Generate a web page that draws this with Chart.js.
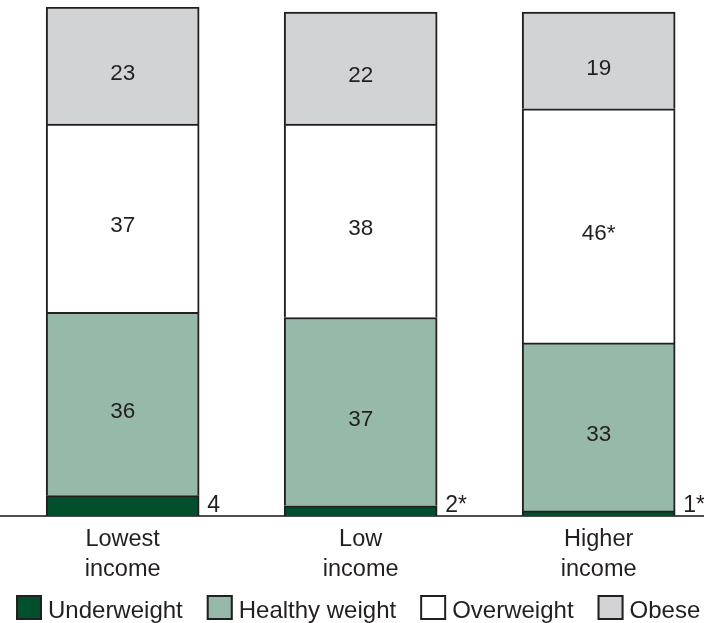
<!DOCTYPE html>
<html><head><meta charset="utf-8">
<script src="https://cdn.jsdelivr.net/npm/chart.js@4.4.1/dist/chart.umd.min.js"></script>
<style>html,body{margin:0;padding:0;background:#fff;overflow:hidden}#wrap{position:relative;width:704px;height:623px}</style>
</head><body><div id="wrap"><canvas id="c"></canvas></div>
<script>
const categories = ['Lowest income', 'Low income', 'Higher income'];
const seriesNames = ['Underweight', 'Healthy weight', 'Overweight', 'Obese'];
const underweight = [4, 2, 1];
const healthyWeight = [36, 37, 33];
const overweight = [37, 38, 46];
const obese = [23, 22, 19];
const underweightStar = [false, true, true];
const healthyStar = [false, false, false];
const overweightStar = [false, false, true];
const obeseStar = [false, false, false];

const INK = '#231f20';
const FONT = '"Liberation Sans", Arial, Helvetica, sans-serif';

function pts(arr) { return arr.map((v, i) => ({ x: i, y: v })); }

const datasets = [
  { label: seriesNames[0], data: pts(underweight), backgroundColor: '#00502e', stars: underweightStar },
  { label: seriesNames[1], data: pts(healthyWeight), backgroundColor: '#96b9aa', stars: healthyStar },
  { label: seriesNames[2], data: pts(overweight), backgroundColor: '#ffffff', stars: overweightStar },
  { label: seriesNames[3], data: pts(obese), backgroundColor: '#d1d3d4', stars: obeseStar }
].map(d => Object.assign(d, {
  borderColor: INK, borderWidth: 2, borderSkipped: 'start', barThickness: 153
}));

const valueLabels = {
  id: 'valueLabels',
  afterDatasetsDraw(chart) {
    const ctx = chart.ctx;
    ctx.save();
    ctx.fillStyle = INK;
    chart.data.datasets.forEach((ds, di) => {
      const meta = chart.getDatasetMeta(di);
      meta.data.forEach((bar, i) => {
        const v = ds.data[i].y;
        const txt = String(v) + (ds.stars[i] ? '*' : '');
        if (di === 0) {
          ctx.font = '23px ' + FONT;
          ctx.textAlign = 'left';
          ctx.textBaseline = 'alphabetic';
          ctx.fillText(txt, bar.x + bar.width / 2 + 8, 512);
        } else {
          ctx.font = '22.5px ' + FONT;
          ctx.textAlign = 'center';
          ctx.textBaseline = 'middle';
          ctx.fillText(txt, bar.x, (bar.y + bar.base) / 2 + 8);
        }
      });
    });
    ctx.restore();
  }
};

const customLegend = {
  id: 'customLegend',
  afterDraw(chart) {
    const ctx = chart.ctx;
    ctx.save();
    ctx.font = '24px ' + FONT;
    let x = 16;
    chart.data.datasets.forEach(ds => {
      ctx.fillStyle = ds.backgroundColor;
      ctx.fillRect(x, 595, 26, 25);
      ctx.lineWidth = 2;
      ctx.strokeStyle = INK;
      ctx.strokeRect(x + 1, 596, 24, 23);
      ctx.fillStyle = INK;
      ctx.textAlign = 'left';
      ctx.textBaseline = 'alphabetic';
      ctx.fillText(ds.label, x + 32, 618);
      x += 32 + ctx.measureText(ds.label).width + 24;
    });
    ctx.restore();
  }
};

new Chart(document.getElementById('c'), {
  type: 'bar',
  data: { datasets },
  options: {
    responsive: true,
    maintainAspectRatio: false,
    animation: false,
    layout: { padding: { top: 7, left: 0, right: 0, bottom: 0 } },
    plugins: { legend: { display: false }, tooltip: { enabled: false } },
    scales: {
      x: {
        type: 'linear',
        stacked: true,
        offset: false,
        min: -0.5154,
        max: 2.4426,
        grid: { display: false, drawTicks: false, offset: false },
        border: { display: true, color: '#4d4d4f', width: 2 },
        afterBuildTicks: s => { s.ticks = categories.map((c, i) => ({ value: i })); },
        afterFit: s => { s.height = 107; },
        ticks: {
          autoSkip: false, maxRotation: 0, padding: 8, color: INK,
          font: { family: FONT, size: 23.5, lineHeight: 1.28 },
          callback: v => categories[v] ? categories[v].split(' ') : ''
        }
      },
      y: {
        stacked: true, display: false, min: 0, max: 100
      }
    }
  },
  plugins: [valueLabels, customLegend]
});
</script>
</body></html>
